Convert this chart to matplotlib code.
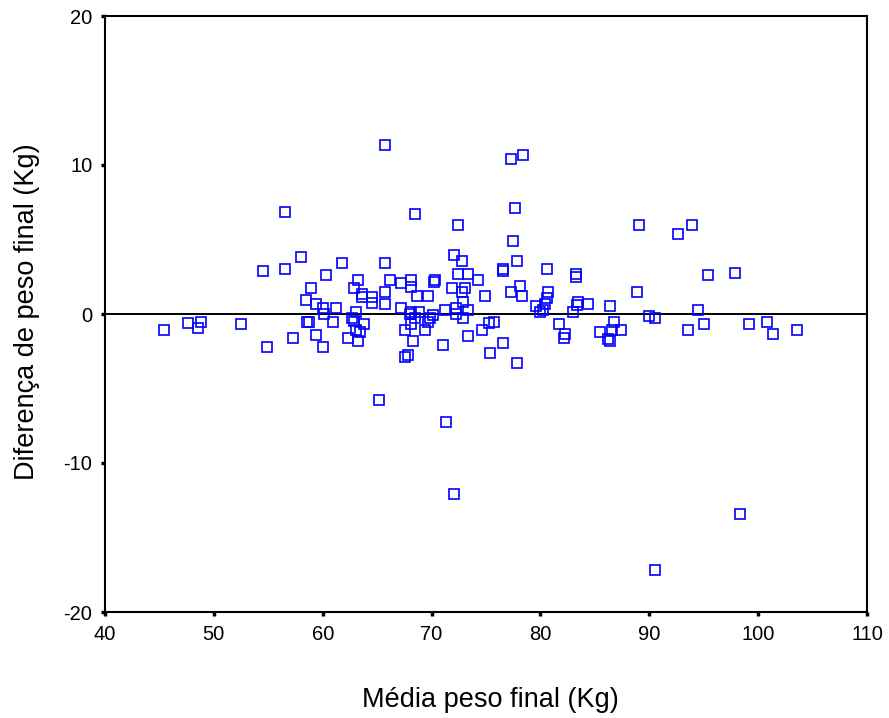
import matplotlib
matplotlib.use("Agg")
import matplotlib.pyplot as plt

plt.rcParams['font.family'] = ['Liberation Sans', 'DejaVu Sans']
plt.rcParams['axes.unicode_minus'] = False

# media do peso final (Kg)
media = [
    45.45, 47.67, 48.78, 48.58, 52.5, 54.5, 54.9, 56.56, 56.56, 57.27,
    57.98, 58.88, 58.48, 58.58, 58.78, 59.39, 59.39, 60.0, 60.1, 60.0,
    60.3, 60.9, 61.2, 61.8,
    65.76, 77.28, 78.39, 77.68, 68.5, 72.43, 77.48, 72.03, 72.83, 65.76,
    77.88, 76.57, 76.57, 80.61, 63.24, 66.16, 68.08, 67.18, 68.08, 70.21,
    70.31, 72.43, 73.33, 74.23, 62.84, 63.65, 63.65, 64.55, 64.55, 65.76,
    65.76, 68.7, 69.7, 71.92, 73.03, 72.83, 74.95, 78.08, 77.28, 78.28,
    80.71, 80.61, 80.4, 79.6, 80.2, 80.0, 83.24, 83.24, 83.44, 83.34,
    84.35, 83.03, 63.03, 62.73, 62.84, 63.75, 63.03, 63.43, 62.33, 63.24,
    67.18, 68.08, 67.98, 68.8, 68.5, 68.08, 67.58, 68.3, 67.8, 67.58,
    70.1, 69.9, 69.7, 69.4, 71.22, 72.23, 72.23, 72.93, 73.33, 72.93,
    73.33, 71.01, 74.63, 75.3, 75.75, 75.35, 76.57, 77.88, 81.67, 82.28,
    82.18,
    89.1, 92.64, 93.95, 95.36, 97.88, 88.9, 86.4, 94.45, 90.0, 90.5,
    86.78, 85.47, 86.58, 87.39, 86.18, 86.38, 93.54, 95.06, 99.2, 100.82,
    101.33, 103.55,
    65.17, 71.35, 72.04, 98.31, 90.52,
]

# diferenca de peso final (Kg)
diferenca = [
    -1.05, -0.63, -0.51, -0.92, -0.65, 2.9, -2.24, 6.87, 3.04, -1.59,
    3.83, 1.74, 0.94, -0.51, -0.51, 0.67, -1.43, 0.43, 0.02, -2.24,
    2.64, -0.51, 0.40, 3.45,
    11.34, 10.4, 10.7, 7.1, 6.7, 5.95, 4.87, 3.96, 3.56, 3.45,
    3.58, 3.0, 2.9, 3.04, 2.26, 2.26, 2.28, 2.1, 1.83, 2.16,
    2.3, 2.66, 2.66, 2.26, 1.74, 1.32, 1.16, 1.14, 0.76, 1.46,
    0.67, 1.19, 1.19, 1.74, 1.74, 1.46, 1.19, 1.86, 1.46, 1.19,
    1.46, 1.07, 0.67, 0.54, 0.25, 0.13, 2.66, 2.5, 0.8, 0.6,
    0.67, 0.13, 0.16, -0.27, -0.47, -0.65, -1.07, -1.19, -1.59, -1.83,
    0.4, 0.13, 0.0, 0.13, -0.25, -0.65, -1.05, -1.83, -2.77, -2.9,
    -0.07, -0.25, -0.51, -1.05, 0.27, 0.4, 0.0, 0.8, 0.27, -0.27,
    -1.45, -2.1, -1.05, -0.6, -0.51, -2.6, -1.97, -3.3, -0.65, -1.32,
    -1.59,
    5.95, 5.4, 5.95, 2.64, 2.77, 1.46, 0.54, 0.27, -0.13, -0.27,
    -0.51, -1.19, -1.05, -1.05, -1.7, -1.83, -1.05, -0.65, -0.65, -0.51,
    -1.32, -1.05,
    -5.8, -7.27, -12.07, -13.4, -17.2,
]

fig = plt.figure(figsize=(8.89, 7.18), dpi=100)
ax = fig.add_axes([105 / 889, 1 - 612 / 718, 762 / 889, 596 / 718])

ax.plot(media, diferenca, linestyle='none', marker='s', markersize=6.5,
        markerfacecolor='none', markeredgecolor='#0000ff', markeredgewidth=1.2)
ax.axhline(0, color='black', linewidth=1.4, zorder=1)

ax.set_xlim(40, 110)
ax.set_ylim(-20, 20)
ax.set_xticks([40, 50, 60, 70, 80, 90, 100, 110])
ax.set_yticks([-20, -10, 0, 10, 20])

for s in ax.spines.values():
    s.set_linewidth(1.5)
ax.tick_params(direction='out', length=3, width=2.5, pad=6, labelsize=14.5)

fig.text(490 / 889, 1 - 707 / 718, 'Média peso final (Kg)', ha='center',
         va='baseline', fontsize=19.5)
fig.text(27 / 889, 1 - 312 / 718, 'Diferença de peso final (Kg)', ha='center',
         va='center', rotation=90, fontsize=19.5)

fig.savefig('out.png', dpi=100)
